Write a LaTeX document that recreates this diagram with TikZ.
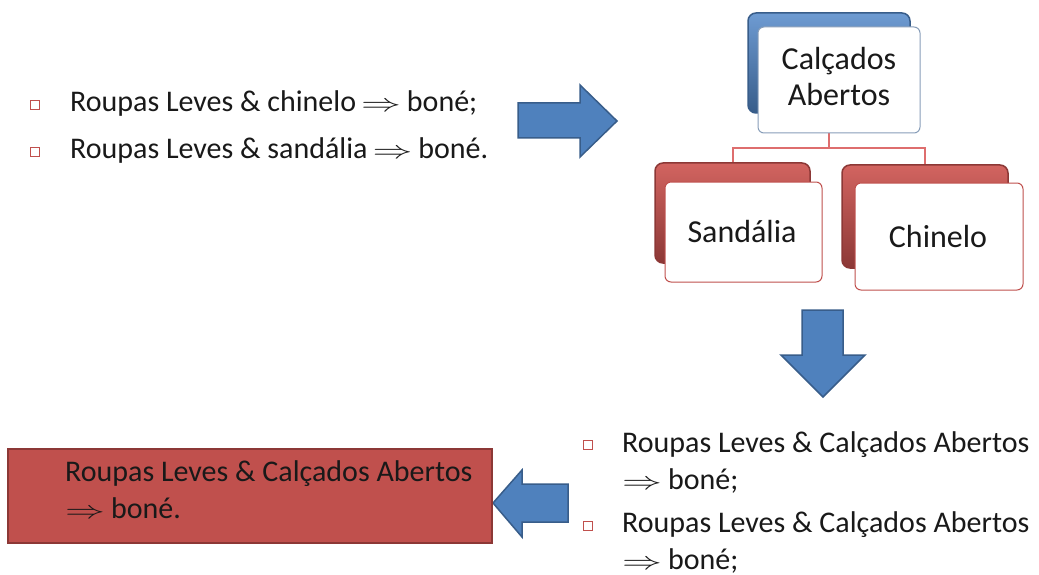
\documentclass[tikz,border=0pt]{standalone}
\usepackage{fontspec}
\usepackage{graphicx}
\setmainfont{Carlito}
\usetikzlibrary{backgrounds}
\definecolor{blueF}{RGB}{79,129,189}
\definecolor{blueL}{RGB}{110,155,210}
\definecolor{blueD}{RGB}{56,93,138}
\definecolor{redF}{RGB}{192,80,77}
\definecolor{redL}{RGB}{210,100,96}
\definecolor{redD}{RGB}{140,56,54}
\definecolor{lineR}{RGB}{222,110,110}
\newcommand{\implarrow}{\scalebox{1.6}[1.0]{$\Rightarrow$}}
\begin{document}
\begin{tikzpicture}[x=1pt,y=-1pt,
  txt/.style={font=\fontsize{30}{37}\selectfont, inner sep=0pt, text=black!90},
  orgtxt/.style={font=\fontsize{32}{36}\selectfont, inner sep=0pt, text=black!90},
  bul/.style={draw=redF, line width=1pt, minimum size=9pt, inner sep=0pt},
  backbox/.style={rounded corners=8pt, line width=1.5pt, inner sep=0pt},
  bluebox/.style={backbox, draw=blueD, top color=blueL, bottom color=blueD},
  redbox/.style={backbox, draw=redD, top color=redL, bottom color=redD},
  frontbox/.style={rounded corners=6pt, fill=white, line width=1pt, inner sep=0pt},
  blockarrow/.style={fill=blueF, draw=blueD, line width=1.5pt, line join=miter},
  conn/.style={draw=lineR, line width=2pt}
]
\useasboundingbox (0,0) rectangle (1039,575);

% top-left list
\node[bul] (b1) at (35,105) {};
\node[txt, anchor=base west] (t1) at (70,112) {Roupas Leves \& chinelo\,\implarrow\hspace{0.2em}boné;};
\node[bul] (b2) at (35,152) {};
\node[txt, anchor=base west] (t2) at (70,159) {Roupas Leves \& sandália\,\implarrow\hspace{0.2em}boné.};

% right block arrow
\draw[blockarrow] (518,103) -- (580,103) -- (580,85) -- (617,121) -- (580,157) -- (580,138) -- (518,138) -- cycle;

% org chart
\node[bluebox, minimum width=162pt, minimum height=100pt] (topb) at (829,63) {};
\node[frontbox, draw=blueD!60, minimum width=162pt, minimum height=106pt] (top) at (839,80) {};
\node[orgtxt, anchor=base] (toptxt) at (839,70) {\begin{tabular}[t]{@{}c@{}}Calçados\\Abertos\end{tabular}};

\node[redbox, minimum width=155pt, minimum height=100pt] (sandb) at (732.5,213) {};
\node[frontbox, draw=redF, minimum width=157pt, minimum height=100pt] (sand) at (743.5,232) {};
\node[orgtxt, anchor=base] (sandtxt) at (742,242) {Sandália};

\node[redbox, minimum width=166pt, minimum height=103pt] (chinb) at (925,216.5) {};
\node[frontbox, draw=redF, minimum width=168pt, minimum height=107pt] (chin) at (939,236.5) {};
\node[orgtxt, anchor=base] (chintxt) at (938,247) {Chinelo};

\begin{scope}[on background layer]
\fill[white] (0,0) rectangle (1039,575);
\coordinate (hub) at (topb.south |- 0,148);
\draw[conn] (topb.south) -- (hub) -| (sandb.north);
\draw[conn] (hub) -| (chinb.north);
\end{scope}

% down block arrow
\draw[blockarrow] (802,310) -- (843,310) -- (843,355) -- (865,355) -- (823,397) -- (781,355) -- (802,355) -- cycle;

% bottom-right list
\node[bul] (b3) at (588,445) {};
\node[txt, anchor=base west] (t3) at (622,452) {\begin{tabular}[t]{@{}l@{}}Roupas Leves \& Calçados Abertos\\\implarrow\hspace{0.2em}boné;\end{tabular}};
\node[bul] (b4) at (588,526) {};
\node[txt, anchor=base west] (t4) at (622,532) {\begin{tabular}[t]{@{}l@{}}Roupas Leves \& Calçados Abertos\\\implarrow\hspace{0.2em}boné;\end{tabular}};

% left block arrow
\draw[blockarrow] (568,484) -- (522,484) -- (522,470) -- (493,503) -- (522,537) -- (522,522) -- (568,522) -- cycle;

% result box
\node[fill=redF, draw=redD, line width=2pt, minimum width=484pt, minimum height=94pt, inner sep=0pt] (res) at (250,496) {};
\node[txt, anchor=base west] (restxt) at (65,481) {\begin{tabular}[t]{@{}l@{}}Roupas Leves \& Calçados Abertos\\\implarrow\hspace{0.2em}boné.\end{tabular}};
\end{tikzpicture}
\end{document}
